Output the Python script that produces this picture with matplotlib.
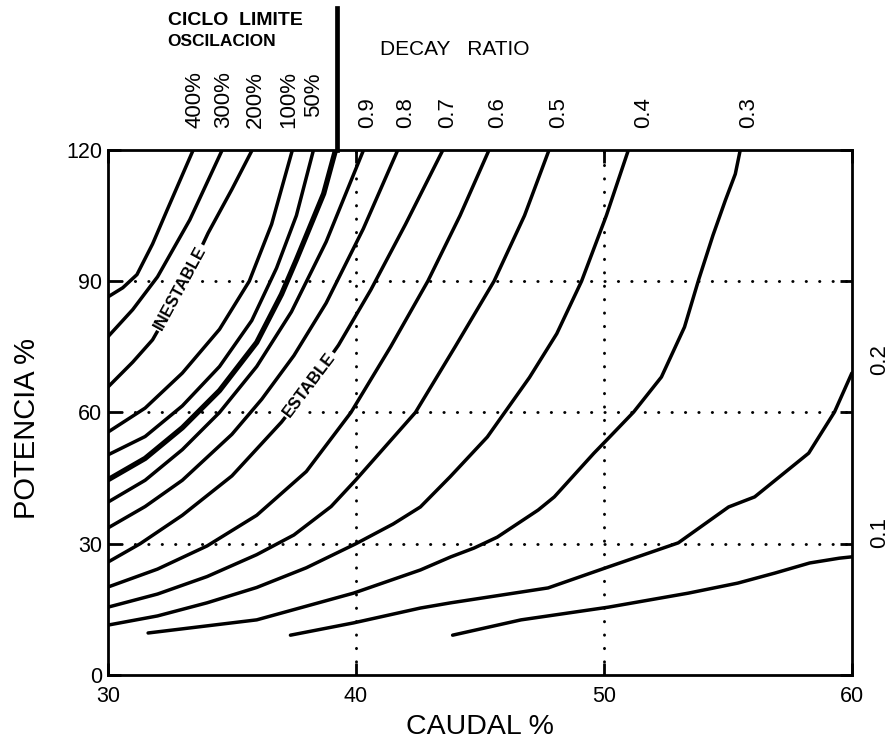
import matplotlib
matplotlib.use("Agg")
import matplotlib.pyplot as plt

# caudal (%) / potencia (%) points
ciclo_labels = ["400%", "300%", "200%", "100%", "50%"]
ciclo_x = [
    [30.0, 30.6, 31.17, 31.8, 32.39, 33.44],
    [30.0, 31.0, 32.0, 33.3, 34.61],
    [30.0, 31.0, 31.8, 33.0, 34.04, 35.0, 35.82],
    [30.0, 31.5, 33.0, 34.5, 35.7, 36.6, 37.44],
    [30.0, 31.5, 33.0, 34.5, 35.8, 36.8, 37.6, 38.29],
]
ciclo_y = [
    [86.4, 88.5, 91.5, 98.5, 106.3, 120.0],
    [77.3, 83.5, 91.0, 104.0, 120.0],
    [65.8, 71.5, 76.6, 88.5, 101.0, 111.0, 120.0],
    [55.5, 61.0, 69.0, 79.0, 90.0, 103.0, 120.0],
    [50.3, 54.5, 61.5, 70.5, 81.0, 93.0, 105.0, 120.0],
]

# stability limit (decay ratio 1)
limit_x = [30.0, 31.5, 33.0, 34.5, 36.0, 37.0, 37.6, 38.7, 39.18]
limit_y = [44.6, 49.5, 56.5, 65.0, 76.0, 87.0, 94.9, 110.0, 120.0]

decay_labels = ["0.9", "0.8", "0.7", "0.6", "0.5", "0.4", "0.3", "0.2", "0.1"]
decay_x = [
    [30.0, 31.5, 33.0, 34.5, 36.0, 37.4, 38.8, 40.31],
    [30.0, 31.5, 33.0, 35.0, 36.2, 37.5, 38.8, 40.3, 41.69],
    [30.0, 31.3, 33.0, 35.0, 37.0, 38.2, 39.3, 40.6, 42.0, 43.51],
    [30.0, 32.0, 34.0, 36.0, 38.0, 39.8, 41.4, 42.9, 44.2, 45.37],
    [30.0, 32.0, 34.0, 36.0, 37.5, 39.0, 40.0, 42.4, 44.0, 45.57, 46.8, 47.79],
    [30.0, 32.0, 34.0, 36.0, 38.0, 40.0, 41.5, 42.6, 43.8, 45.3, 46.0, 47.0, 48.1,
     49.1, 50.1, 50.99],
    [31.62, 36.0, 39.9, 42.6, 43.83, 44.76, 45.7, 47.35, 48.0, 49.6, 50.2, 51.2, 52.32,
     53.25, 53.82, 54.4, 54.9, 55.3, 55.5],
    [37.36, 39.9, 42.6, 43.83, 47.75, 50.18, 53.0, 55.03, 56.08, 58.26, 59.3, 60.0],
    [43.9, 46.66, 50.18, 53.4, 55.4, 56.9, 58.3, 59.5, 60.0],
]
decay_y = [
    [39.5, 44.5, 51.5, 60.0, 70.5, 83.0, 99.0, 120.0],
    [33.6, 38.5, 44.5, 55.0, 63.0, 73.0, 85.0, 102.0, 120.0],
    [25.8, 30.0, 36.5, 45.5, 57.8, 66.5, 75.4, 88.0, 103.0, 120.0],
    [20.1, 24.2, 29.5, 36.5, 46.5, 60.0, 75.0, 90.0, 105.0, 120.0],
    [15.5, 18.5, 22.5, 27.5, 32.0, 38.5, 44.6, 60.0, 75.0, 90.0, 105.0, 120.0],
    [11.4, 13.5, 16.5, 20.0, 24.5, 30.0, 34.5, 38.4, 45.3, 54.4, 60.0, 68.0, 78.0,
     90.0, 105.0, 120.0],
    [9.6, 12.6, 18.7, 24.0, 27.0, 29.0, 31.5, 37.7, 40.7, 50.7, 54.2, 60.1, 68.1,
     79.5, 90.3, 100.5, 108.5, 114.5, 120.0],
    [9.1, 11.9, 15.3, 16.5, 19.9, 24.7, 30.2, 38.4, 40.7, 50.7, 60.1, 69.0],
    [9.1, 12.6, 15.5, 18.7, 21.0, 23.3, 25.6, 26.7, 27.0],
]

# label anchors along the top edge
ciclo_label_x = [33.52, 34.65, 35.94, 37.28, 38.29]
decay_label_x = [40.47, 42.0, 43.7, 45.73, 48.16, 51.6, 55.84]

plt.rcParams["font.family"] = ["Liberation Sans", "DejaVu Sans"]
fig = plt.figure(figsize=(8.92, 7.48), dpi=100)
ax = fig.add_axes([0.121, 0.0976, 0.834, 0.702])

dot = dict(color="black", lw=2.1, linestyle=(0, (0.1, 4.5)), dash_capstyle="round")
for gx in (40, 50):
    ax.axvline(gx, **dot)
for gy in (30, 60, 90):
    ax.axhline(gy, **dot)

curve = dict(color="black", lw=2.5, solid_capstyle="round", solid_joinstyle="round")
for xs, ys in zip(ciclo_x, ciclo_y):
    ax.plot(xs, ys, **curve)
ax.plot(limit_x, limit_y, color="black", lw=3.8, solid_capstyle="round", solid_joinstyle="round")
for xs, ys in zip(decay_x, decay_y):
    ax.plot(xs, ys, **curve)

ax.set_xlim(30, 60)
ax.set_ylim(0, 120)
ax.set_xticks([30, 40, 50, 60])
ax.set_yticks([0, 30, 60, 90, 120])
ax.tick_params(direction="in", length=9, width=2.0, labelsize=15.5, top=True, right=True)
ax.tick_params(axis="x", pad=8)
ax.tick_params(axis="y", pad=4)
for s in ax.spines.values():
    s.set_linewidth(2.0)
ax.set_xlabel("CAUDAL %", fontsize=20.5, labelpad=5)
ax.set_ylabel("POTENCIA %", fontsize=21)
ax.yaxis.set_label_coords(-0.09, 0.47)

ax.text(32.91, 88.5, "INESTABLE", rotation=61.5, ha="center", va="center", fontsize=12,
        fontweight="bold", bbox=dict(facecolor="white", edgecolor="none", pad=1.5))
ax.text(38.13, 66.3, "ESTABLE", rotation=53, ha="center", va="center", fontsize=12,
        fontweight="bold", bbox=dict(facecolor="white", edgecolor="none", pad=1.5))

for lx, lab in zip(ciclo_label_x, ciclo_labels):
    dy = 24 if lab == "50%" else 16
    ax.annotate(lab, (lx, 120), xytext=(0, dy), textcoords="offset points", rotation=90,
                ha="center", va="bottom", fontsize=16, annotation_clip=False)
for lx, lab in zip(decay_label_x, decay_labels[:7]):
    ax.annotate(lab, (lx, 120), xytext=(0, 16), textcoords="offset points", rotation=90,
                ha="center", va="bottom", fontsize=16, annotation_clip=False)
ax.annotate("0.2", (60, 72), xytext=(20, 0), textcoords="offset points", rotation=90,
            ha="center", va="center", fontsize=16, annotation_clip=False)
ax.annotate("0.1", (60, 32.5), xytext=(20, 0), textcoords="offset points", rotation=90,
            ha="center", va="center", fontsize=16, annotation_clip=False)

# divider between the limit-cycle and decay-ratio scales
ax.plot([39.25, 39.25], [120, 152.5], color="black", lw=3.4, clip_on=False)
fig.text(0.188, 0.973, "CICLO  LIMITE", fontsize=14, fontweight="bold", va="center")
fig.text(0.188, 0.944, "OSCILACION", fontsize=12.5, fontweight="bold", va="center")
fig.text(0.426, 0.934, "DECAY   RATIO", fontsize=15, va="center")

fig.savefig("out.png", dpi=100)
